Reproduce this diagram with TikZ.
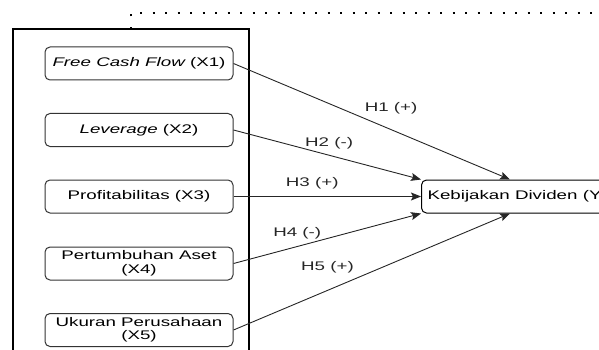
\documentclass[tikz,border=0pt]{standalone}
\usepackage{fontspec}
\setmainfont{Liberation Sans}[FakeStretch=1.5]
\usetikzlibrary{arrows.meta,calc}

\begin{document}
\begin{tikzpicture}[
    x = 1pt, y = -1pt, % pixel grid, y down
    > = {Stealth[length=10pt,width=8pt,inset=2pt]}, % arrow head style
    font = \fontsize{12.5}{13.5}\selectfont,
    semithick % line style
    ]

    \tikzset{
    varbox/.style = {draw = black!80, line width = 1pt, rounded corners = 5pt,
        minimum width = 188pt, minimum height = 33pt, inner sep = 2pt, align = center},
    ybox/.style = {varbox, draw = black, minimum width = 0pt, inner sep = 6pt, anchor = west},
    lbl/.style = {inner sep = 0pt},
    path/.style = {line width = 0.9pt, black!85}
    }

    \useasboundingbox (0,0) rectangle (599,350);
    \clip (0,0) rectangle (599,350);

    % outer frame and dotted link
    \draw[line width = 1.5pt] (13,360) |- (249,29) -- (249,360);
    \draw[line width = 1.6pt, dash pattern = on 2pt off 10.5pt] (131,29) -- (131,13) -- (610,13);

    \node[varbox] (x1) at (139,63.5) {\itshape Free Cash Flow\upshape{} (X1)};
    \node[varbox] (x2) at (139,130) {\itshape Leverage\upshape{} (X2)};
    \node[varbox] (x3) at (139,196.5) {Profitabilitas (X3)};
    \node[varbox] (x4) at (139,263.5) {Pertumbuhan Aset\\(X4)};
    \node[varbox] (x5) at (139,330) {Ukuran Perusahaan\\(X5)};

    \node[ybox] (y) at (421,196.5) {Kebijakan Dividen (Y)};

    \coordinate (ytop) at ($(y.north west)+(89,0)$);
    \coordinate (ybot) at ($(y.south west)+(89,0)$);

    \path[->,path] (x1.east) edge node[lbl, pos=0.57, yshift=21pt]{H1 (+)} (ytop);
    \path[->,path] (x2.east) edge node[lbl, pos=0.51, yshift=12pt]{H2 (-)} (y.north west);
    \path[->,path] (x3.east) edge node[lbl, pos=0.42, yshift=13pt]{H3 (+)} (y.west);
    \path[->,path] (x4.east) edge node[lbl, pos=0.34, yshift=13pt]{H4 (-)} (y.south west);
    \path[->,path] (x5.east) edge node[lbl, pos=0.34, yshift=23pt]{H5 (+)} (ybot);
\end{tikzpicture}
\end{document}
